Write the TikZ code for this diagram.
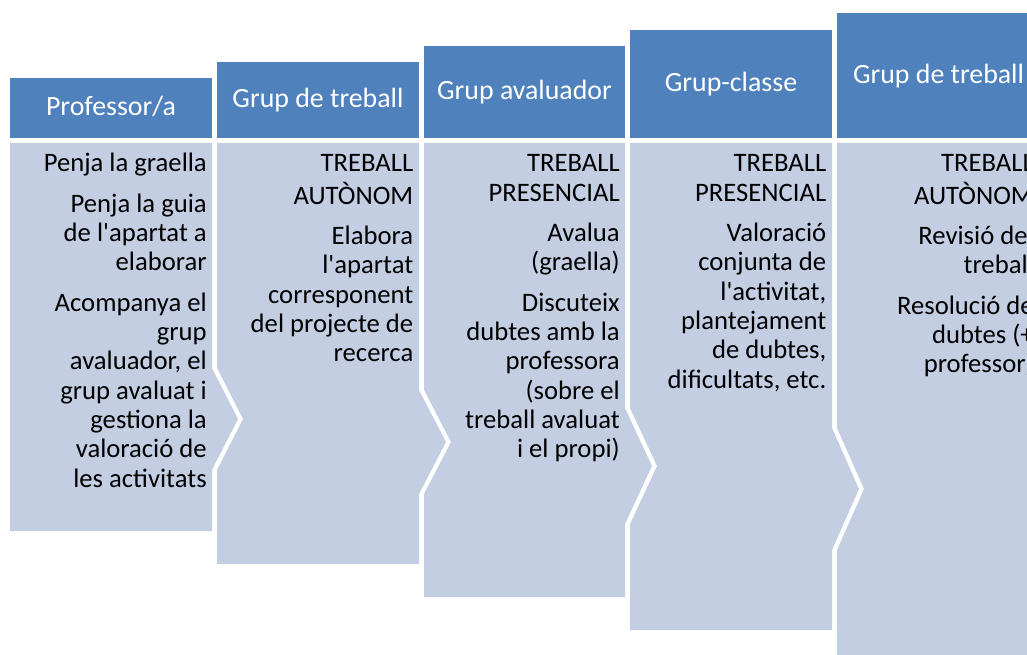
\documentclass[tikz,border=0pt]{standalone}
\usepackage{fontspec}
\setmainfont{Carlito}[Ligatures=TeXOff]
\usepackage{tikz}

\begin{document}
\begin{tikzpicture}[x=0.75pt,y=0.75pt,yscale=-1,xscale=1,
  hdrbox/.style={fill={rgb, 255:red, 79; green, 129; blue, 189 }},
  bodybox/.style={fill={rgb, 255:red, 196; green, 206; blue, 227 }},
  hdrtxt/.style={anchor=base, inner sep=0.75pt, text=white, font=\fontsize{20.9}{25}\selectfont},
  bodytxt/.style={anchor=north east, inner sep=0pt, align=right, font=\fontsize{20}{22}\selectfont}]
\useasboundingbox (0,0) rectangle (1027,655);
\clip (0,0) rectangle (1027,655);

%Shape: Rectangle [Professor/a header]
\fill [hdrbox] (10,78) rectangle (212,138) ;
%Shape: Rectangle [Grup de treball header]
\fill [hdrbox] (217,62) rectangle (419,138) ;
%Shape: Rectangle [Grup avaluador header]
\fill [hdrbox] (424,46) rectangle (625,138) ;
%Shape: Rectangle [Grup-classe header]
\fill [hdrbox] (630,30) rectangle (832,138) ;
%Shape: Rectangle [Grup de treball header, 2]
\fill [hdrbox] (837,13) rectangle (1040,138) ;

%Shape: Chevron body [Professor/a]
\fill [bodybox] (10,143) -- (212,143) -- (212,368) -- (238,419) -- (212,470) -- (212,531) -- (10,531) -- cycle ;
%Shape: Chevron body [Grup de treball]
\fill [bodybox] (217,143) -- (419,143) -- (419,390) -- (446,442) -- (419,494) -- (419,564) -- (217,564) -- (217,470) -- (243,419) -- (217,368) -- cycle ;
%Shape: Chevron body [Grup avaluador]
\fill [bodybox] (424,143) -- (625,143) -- (625,408) -- (652,466) -- (625,524) -- (625,597) -- (424,597) -- (424,494) -- (451,442) -- (424,390) -- cycle ;
%Shape: Chevron body [Grup-classe]
\fill [bodybox] (630,143) -- (832,143) -- (832,428) -- (859,489) -- (832,550) -- (832,630) -- (630,630) -- (630,524) -- (657,466) -- (630,408) -- cycle ;
%Shape: Chevron body [Grup de treball, 2]
\fill [bodybox] (837,143) -- (1040,143) -- (1040,663) -- (837,663) -- (837,550) -- (864,489) -- (837,428) -- cycle ;

% Text Node
\node [hdrtxt] (hProf) at (111,116) {Professor/a};
% Text Node
\node [hdrtxt] (hGrup) at (318,107.7) {Grup de treball};
% Text Node
\node [hdrtxt] (hAval) at (524.5,99.7) {Grup avaluador};
% Text Node
\node [hdrtxt] (hClasse) at (731,91.7) {Grup-classe};
% Text Node
\node [hdrtxt] (hGrupB) at (938.5,83.2) {Grup de treball};

% Text Node
\node [bodytxt] (tProf) at (207,151) {\strut Penja la graella\\[8.3pt]
  Penja la guia\\ de l'apartat a\\ elaborar\\[8.3pt]
  Acompanya el\\ grup\\ avaluador, el\\ grup avaluat i\\ gestiona la\\ valoració de\\ les activitats};
% Text Node
\node [bodytxt] (tGrup) at (413.5,151) {\strut TREBALL\\ AUTÒNOM\\[8.3pt]
  Elabora\\ l'apartat\\ corresponent\\ del projecte de\\ recerca};
% Text Node
\node [bodytxt] (tAval) at (620,151) {\strut TREBALL\\ PRESENCIAL\\[8.3pt]
  Avalua\\ (graella)\\[8.3pt]
  Discuteix\\ dubtes amb la\\ professora\\ (sobre el\\ treball avaluat\\ i el propi)};
% Text Node
\node [bodytxt] (tClasse) at (826.5,151) {\strut TREBALL\\ PRESENCIAL\\[8.3pt]
  Valoració\\ conjunta de\\ l'activitat,\\ plantejament\\ de dubtes,\\ dificultats, etc.};
% Text Node
\node [bodytxt] (tGrupB) at (1034,151) {\strut TREBALL\\ AUTÒNOM\\[8.3pt]
  Revisió del\\ treball\\[8.3pt]
  Resolució de\\ dubtes (+\\ professor)};

\end{tikzpicture}
\end{document}
